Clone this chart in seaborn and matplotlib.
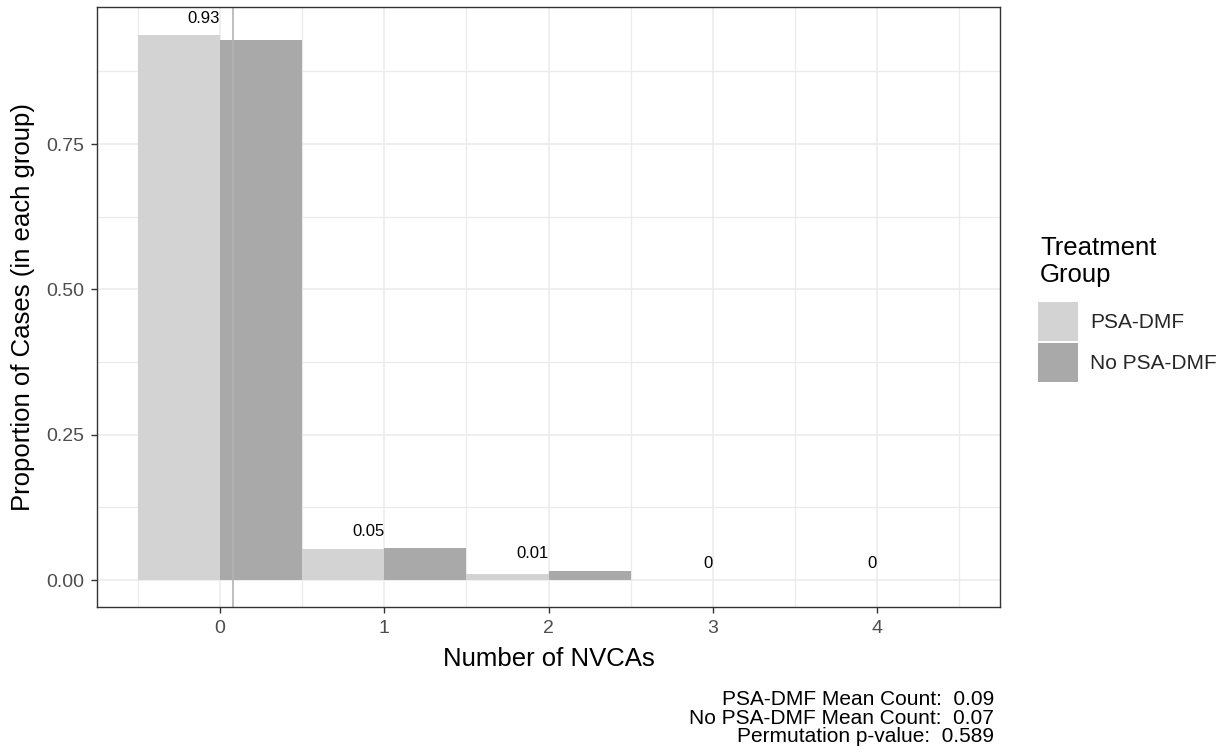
import numpy as np
import pandas as pd
import matplotlib
matplotlib.use("Agg")
import matplotlib.pyplot as plt
from matplotlib.patches import Patch
import seaborn as sns

# Proportion of cases with each number of NVCAs, per treatment group
counts = [0, 1, 2, 3, 4]
psa_dmf = [0.937, 0.053, 0.010, 0.0, 0.0]
no_psa_dmf = [0.929, 0.055, 0.016, 0.0, 0.0]
groups = ["PSA-DMF", "No PSA-DMF"]
group_colors = ["#d3d3d3", "#a9a9a9"]
mean_counts = [0.09, 0.07]
p_value = 0.589
overall_mean = 0.077

df = pd.DataFrame({
    "count": counts * 2,
    "prop": psa_dmf + no_psa_dmf,
    "group": [groups[0]] * len(counts) + [groups[1]] * len(counts),
})

sns.set_theme(style="white")
plt.rcParams["font.family"] = ["Liberation Sans", "DejaVu Sans"]

W, H = 1225, 755
fig = plt.figure(figsize=(W / 100, H / 100), dpi=100)
ax = fig.add_axes([97 / W, 1 - 607 / H, 903 / W, 600 / H])

sns.barplot(data=df, x="count", y="prop", hue="group", hue_order=groups,
            palette=group_colors, width=1.0, gap=0, saturation=1,
            errorbar=None, linewidth=0, legend=False, ax=ax, zorder=2)

# pooled proportion above each count
for i, c in enumerate(counts):
    pooled = round((psa_dmf[i] + no_psa_dmf[i]) / 2, 2)
    top = max(psa_dmf[i], no_psa_dmf[i])
    ax.text(i, top + 0.029, f"{pooled:g}", ha="right", va="center",
            fontsize=12, color="black", zorder=4)

ax.axvline(overall_mean, color="#b3b3b3", lw=1.2, zorder=3)

ax.set_xlim(-0.75, 4.75)
ax.set_ylim(-0.0464, 0.9857)
ax.set_xticks(range(len(counts)))
ax.set_xticklabels([str(c) for c in counts])
ax.set_xticks(np.arange(-0.5, len(counts), 1.0), minor=True)
ax.set_yticks([0, 0.25, 0.5, 0.75])
ax.set_yticklabels(["0.00", "0.25", "0.50", "0.75"])
ax.set_yticks([0.125, 0.375, 0.625, 0.875], minor=True)
ax.set_axisbelow(True)
ax.grid(which="major", color="#ebebeb", lw=1.15, zorder=0)
ax.grid(which="minor", color="#ebebeb", lw=0.9, zorder=0)
ax.tick_params(which="major", length=4.3, width=1.0, color="#333333",
               labelcolor="#4d4d4d", labelsize=14, pad=5, bottom=True, left=True)
ax.tick_params(which="minor", length=0)
for s in ax.spines.values():
    s.set_color("#333333")
    s.set_linewidth(1.0)
    s.set_zorder(5)

ax.set_xlabel("Number of NVCAs", fontsize=18.5, color="black", labelpad=7)
ax.set_ylabel("Proportion of Cases (in each group)", fontsize=18.5, color="black", labelpad=8)

# legend: title as its own text, keys below it
fig.text(1040 / W, 1 - 236 / H, "Treatment\nGroup", ha="left", va="top",
         fontsize=18.5, linespacing=1.15, color="black")
handles = [Patch(facecolor=c, edgecolor="none") for c in group_colors]
fig.legend(handles, groups, loc="upper left",
           bbox_to_anchor=(1038 / W, 1 - 302 / H), frameon=False,
           fontsize=15, handlelength=1.9, handleheight=2.5,
           handletextpad=0.62, labelspacing=0.12, borderpad=0, borderaxespad=0)

caption = (f"{groups[0]} Mean Count:  {mean_counts[0]:.2f}\n"
           f"{groups[1]} Mean Count:  {mean_counts[1]:.2f}\n"
           f"Permutation p-value:  {p_value:.3f}")
fig.text(994 / W, 1 - 690 / H, caption, ha="right", va="top", fontsize=15,
         linespacing=0.97, multialignment="right", color="black")

fig.savefig("out.png", dpi=100)
